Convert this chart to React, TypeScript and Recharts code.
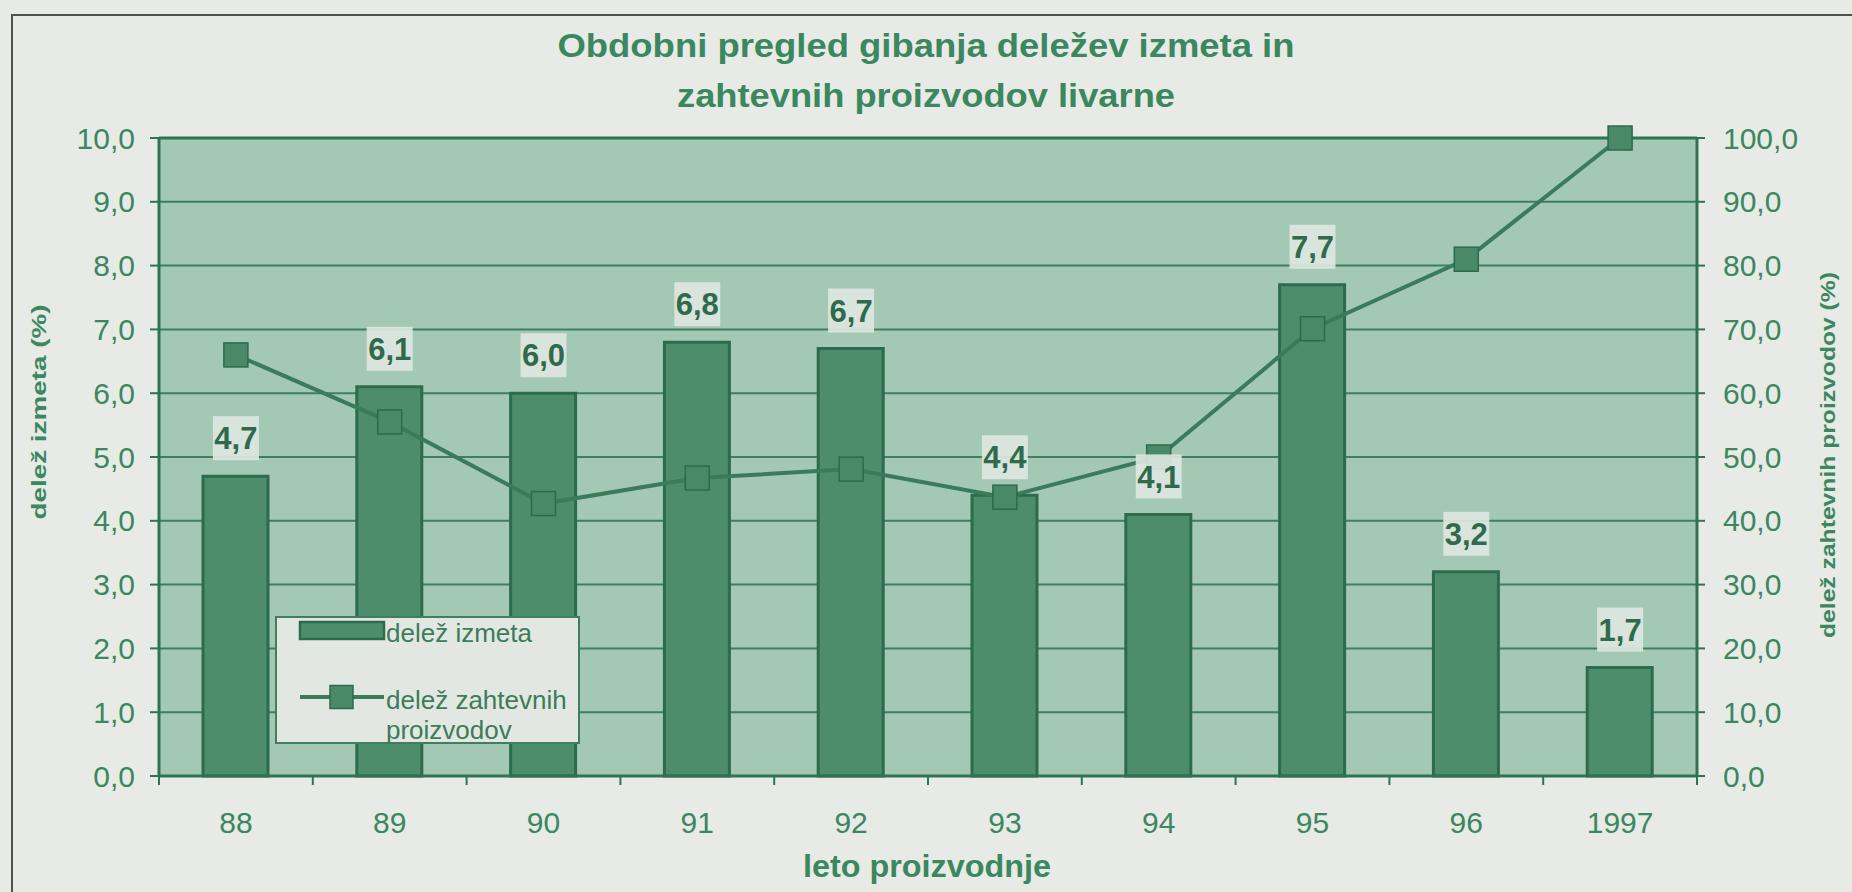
import {
    ComposedChart,
    Bar,
    Line,
    XAxis,
    YAxis,
    CartesianGrid,
    Legend,
    LabelList,
    ReferenceLine,
} from "recharts";

// data
const years = ["88", "89", "90", "91", "92", "93", "94", "95", "96", "1997"];
const scrapShare = [4.7, 6.1, 6.0, 6.8, 6.7, 4.4, 4.1, 7.7, 3.2, 1.7];
const demandingShare = [66.0, 55.5, 42.7, 46.7, 48.1, 43.7, 50.0, 70.1, 81.0, 100.0];
const leftTicks = [0, 1, 2, 3, 4, 5, 6, 7, 8, 9, 10];
const rightTicks = [0, 10, 20, 30, 40, 50, 60, 70, 80, 90, 100];

const W = 1852;
const H = 892;
const LEFT_AXIS_W = 159;
const RIGHT_AXIS_W = 155;
const BAND = (W - LEFT_AXIS_W - RIGHT_AXIS_W) / years.length;

const FONT = "'Liberation Sans', Arial, sans-serif";
const PAGE_BG = "#e8eae5";
const PLOT_BG = "#a3c8b3";
const GRID = "#3f7e5e";
const AXIS = "#2f7352";
const BAR = "#4e8d6b";
const BAR_EDGE = "#2c6c4c";
const LINE = "#3a7b5a";
const TEXT = "#3a8760";
const LABEL_BOX = "#dce6df";
const LABEL_TEXT = "#2f6a4c";

const data = years.map((year, i) => ({
    year,
    scrap: scrapShare[i],
    demanding: demandingShare[i],
}));

const comma = (v: number) => v.toFixed(1).replace(".", ",");

const tickStyle = { fontSize: 30, fill: TEXT, fontFamily: FONT };

function YearTick(props: any) {
    const { x, y, payload, index } = props;
    const axisY = y - 36;
    return (
        <g>
            <line x1={x - BAND / 2} x2={x - BAND / 2} y1={axisY} y2={axisY + 9} stroke={AXIS} strokeWidth={2} />
            {index === years.length - 1 && (
                <line x1={x + BAND / 2} x2={x + BAND / 2} y1={axisY} y2={axisY + 9} stroke={AXIS} strokeWidth={2} />
            )}
            <text x={x} y={y} dy="0.71em" textAnchor="middle" {...tickStyle}>
                {payload.value}
            </text>
        </g>
    );
}

function SquareDot(props: any) {
    const { cx, cy, index } = props;
    if (cx == null || cy == null) return null;
    return (
        <rect
            key={`sq-${index}`}
            x={cx - 12}
            y={cy - 12}
            width={24}
            height={24}
            fill="#4a8967"
            stroke="#2d6a4b"
            strokeWidth={1.5}
        />
    );
}

function ValueLabel(props: any) {
    const { x, y, value } = props;
    if (x == null || y == null) return null;
    const cy = y - 38;
    return (
        <g>
            <rect x={x - 23} y={cy - 22} width={46} height={44} fill={LABEL_BOX} fillOpacity={0.92} />
            <text
                x={x}
                y={cy}
                dy="0.36em"
                textAnchor="middle"
                fontSize={31}
                fontWeight={700}
                fontFamily={FONT}
                fill={LABEL_TEXT}
            >
                {comma(value)}
            </text>
        </g>
    );
}

function LegendBox() {
    const textProps = { fontSize: 26, fontFamily: FONT, fill: "#3b7c5a" };
    return (
        <svg width={305} height={128} style={{ display: "block" }}>
            <rect x={1} y={1} width={303} height={126} fill="#e3e7e1" stroke="#3f7f5e" strokeWidth={2} />
            <rect x={25} y={6} width={84} height={17} fill={BAR} stroke={BAR_EDGE} strokeWidth={2.5} />
            <text x={111} y={17} dy="0.35em" {...textProps}>delež izmeta</text>
            <line x1={25} x2={109} y1={81} y2={81} stroke={LINE} strokeWidth={4} />
            <rect x={55} y={69.5} width={23} height={23} fill="#4a8967" stroke="#2d6a4b" strokeWidth={1.5} />
            <text x={111} y={84} dy="0.35em" {...textProps}>delež zahtevnih</text>
            <text x={111} y={114} dy="0.35em" {...textProps}>proizvodov</text>
        </svg>
    );
}

export default function App() {
    return (
        <div style={{ position: "absolute", left: 0, top: 0, width: W, height: H, background: PAGE_BG, overflow: "hidden" }}>
            <div
                style={{
                    position: "absolute",
                    left: 11,
                    top: 14,
                    right: -4,
                    bottom: -4,
                    borderTop: "2px solid #4d524e",
                    borderLeft: "2px solid #4d524e",
                }}
            />
            <ComposedChart
                width={W}
                height={H}
                data={data}
                margin={{ top: 138, right: 0, bottom: 0, left: 0 }}
            >
                <CartesianGrid
                    yAxisId="left"
                    vertical={false}
                    stroke={GRID}
                    strokeWidth={2}
                    fill={PLOT_BG}
                    fillOpacity={1}
                />
                <XAxis
                    dataKey="year"
                    height={116}
                    interval={0}
                    tickLine={false}
                    tickSize={9}
                    tickMargin={27}
                    axisLine={{ stroke: AXIS, strokeWidth: 3 }}
                    tick={<YearTick />}
                />
                <YAxis
                    yAxisId="left"
                    width={LEFT_AXIS_W}
                    domain={[0, 10]}
                    ticks={leftTicks}
                    tickFormatter={comma}
                    tickSize={9}
                    tickMargin={15}
                    tickLine={{ stroke: AXIS, strokeWidth: 2 }}
                    axisLine={{ stroke: AXIS, strokeWidth: 3 }}
                    tick={tickStyle}
                />
                <YAxis
                    yAxisId="right"
                    orientation="right"
                    width={RIGHT_AXIS_W}
                    domain={[0, 100]}
                    ticks={rightTicks}
                    tickFormatter={comma}
                    tickSize={8}
                    tickMargin={18}
                    tickLine={{ stroke: AXIS, strokeWidth: 2 }}
                    axisLine={{ stroke: AXIS, strokeWidth: 3 }}
                    tick={tickStyle}
                />
                <ReferenceLine yAxisId="left" y={10} stroke={AXIS} strokeWidth={3} />
                <Legend
                    layout="vertical"
                    align="center"
                    verticalAlign="middle"
                    content={<LegendBox />}
                    wrapperStyle={{ left: 275, top: 616, width: 305, height: 128 }}
                />
                <Bar
                    yAxisId="left"
                    dataKey="scrap"
                    name="delež izmeta"
                    fill={BAR}
                    stroke={BAR_EDGE}
                    strokeWidth={3}
                    barSize={65}
                    isAnimationActive={false}
                />
                <Line
                    yAxisId="right"
                    type="linear"
                    dataKey="demanding"
                    name="delež zahtevnih proizvodov"
                    stroke={LINE}
                    strokeWidth={4}
                    dot={<SquareDot />}
                    activeDot={false}
                    isAnimationActive={false}
                />
                {/* invisible series so the value boxes sit above the line */}
                <Line
                    yAxisId="left"
                    dataKey="scrap"
                    stroke="none"
                    dot={false}
                    activeDot={false}
                    legendType="none"
                    isAnimationActive={false}
                >
                    <LabelList dataKey="scrap" content={<ValueLabel />} />
                </Line>
            </ComposedChart>
            <svg
                width={W}
                height={H}
                style={{ position: "absolute", left: 0, top: 0, pointerEvents: "none" }}
                fontFamily={FONT}
                fontWeight={700}
                fill={TEXT}
            >
                <text x={926} y={57} textAnchor="middle" fontSize={33} textLength={737} lengthAdjust="spacingAndGlyphs">
                    Obdobni pregled gibanja deležev izmeta in
                </text>
                <text x={926} y={107} textAnchor="middle" fontSize={33} textLength={498} lengthAdjust="spacingAndGlyphs">
                    zahtevnih proizvodov livarne
                </text>
                <text x={927} y={866} dy="0.35em" textAnchor="middle" fontSize={31} textLength={248} lengthAdjust="spacingAndGlyphs">
                    leto proizvodnje
                </text>
                <text
                    transform="translate(39,412) rotate(-90)"
                    dy="0.35em"
                    textAnchor="middle"
                    fontSize={21}
                    textLength={215}
                    lengthAdjust="spacingAndGlyphs"
                >
                    delež izmeta (%)
                </text>
                <text
                    transform="translate(1828,455) rotate(-90)"
                    dy="0.35em"
                    textAnchor="middle"
                    fontSize={21}
                    textLength={366}
                    lengthAdjust="spacingAndGlyphs"
                >
                    delež zahtevnih proizvodov (%)
                </text>
            </svg>
        </div>
    );
}
